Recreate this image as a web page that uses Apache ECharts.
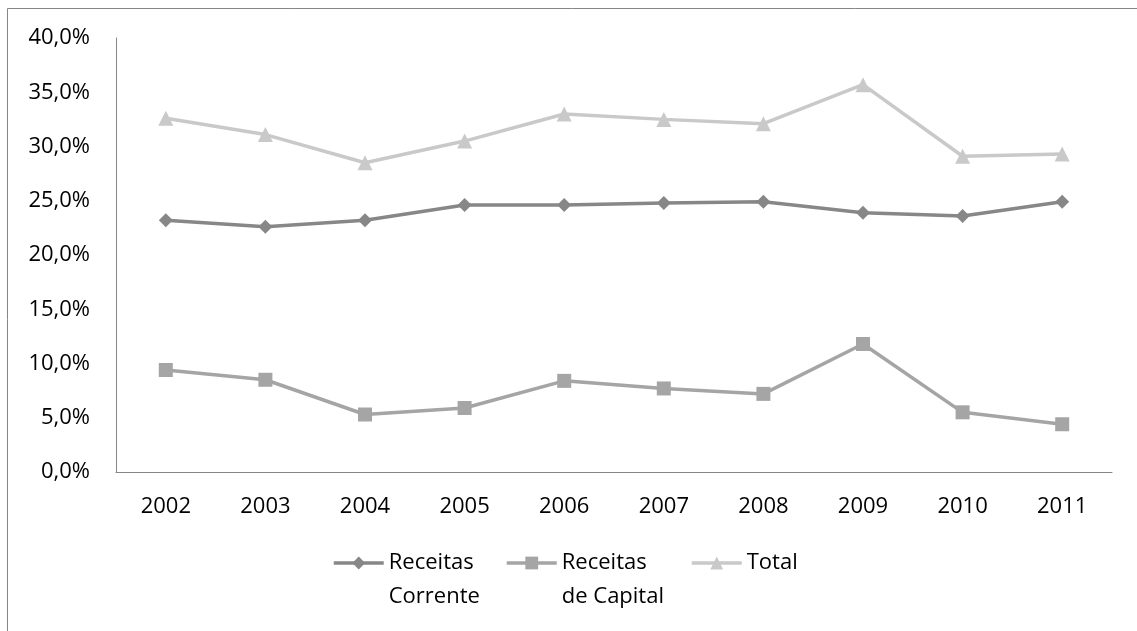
<!DOCTYPE html>
<html>
<head>
<meta charset="utf-8">
<script src="https://cdn.jsdelivr.net/npm/echarts@6/dist/echarts.min.js"></script>
<style>
  html, body { margin: 0; padding: 0; background: #fff; }
  #chart { width: 1137px; height: 631px; }
</style>
</head>
<body>
<div id="chart"></div>
<script>
// Years on the category axis
const years = ['2002', '2003', '2004', '2005', '2006', '2007', '2008', '2009', '2010', '2011'];
// Share of revenue (%) per year
const receitasCorrente = [23.2, 22.6, 23.2, 24.6, 24.6, 24.8, 24.9, 23.9, 23.6, 24.9];
const receitasCapital = [9.4, 8.5, 5.3, 5.9, 8.4, 7.7, 7.2, 11.8, 5.5, 4.4];
const total = [32.6, 31.1, 28.5, 30.5, 33.0, 32.5, 32.1, 35.7, 29.1, 29.3];
const seriesNames = ['Receitas\nCorrente', 'Receitas\nde Capital', 'Total'];

const FONT = 'Open Sans';
const FONT_SIZE = 22;
const LINE_H = 34;
const axisGray = '#868686';
const legendIconY = 563;

const chart = echarts.init(document.getElementById('chart'), null, { renderer: 'canvas' });

// One legend per series so each entry sits at its own x. Two-line names get
// a blank leading line so the icon lines up with the first line of text.
function legendFor(name, left) {
  const twoLine = name.includes('\n');
  const blockH = twoLine ? LINE_H * 3 : LINE_H;
  return {
    data: [name],
    left: left,
    top: legendIconY - 5 - blockH / 2,
    itemWidth: 50,
    itemHeight: 16,
    lineStyle: { width: 3.5 },
    formatter: n => (twoLine ? ' \n' + n : n),
    textStyle: { fontFamily: FONT, fontSize: FONT_SIZE, color: '#000', lineHeight: LINE_H },
    selectedMode: false
  };
}

chart.setOption({
  animation: false,
  backgroundColor: '#fff',
  textStyle: { fontFamily: FONT },
  grid: { left: 116, right: 25, top: 38, bottom: 159, containLabel: false },
  legend: [
    legendFor(seriesNames[0], 327),
    legendFor(seriesNames[1], 500),
    legendFor(seriesNames[2], 685)
  ],
  xAxis: {
    type: 'category',
    data: years,
    boundaryGap: true,
    axisLine: { lineStyle: { color: axisGray, width: 1 } },
    axisTick: { show: false },
    axisLabel: { fontFamily: FONT, fontSize: FONT_SIZE, color: '#000', margin: 24 }
  },
  yAxis: {
    type: 'value',
    min: 0,
    max: 40,
    interval: 5,
    splitLine: { show: false },
    axisLine: { show: true, lineStyle: { color: axisGray, width: 1 } },
    axisTick: { show: false },
    axisLabel: {
      fontFamily: FONT, fontSize: FONT_SIZE, color: '#000', margin: 26,
      formatter: v => v.toFixed(1).replace('.', ',') + '%'
    }
  },
  graphic: [
    { type: 'line', shape: { x1: 7.5, y1: 8.5, x2: 1137, y2: 8.5 }, style: { stroke: axisGray, lineWidth: 1 } },
    { type: 'line', shape: { x1: 7.5, y1: 8.5, x2: 7.5, y2: 631 }, style: { stroke: axisGray, lineWidth: 1 } }
  ],
  series: [
    {
      name: seriesNames[0], type: 'line', data: receitasCorrente,
      symbol: 'diamond', symbolSize: 14,
      lineStyle: { color: '#878787', width: 3.5 },
      itemStyle: { color: '#878787' }
    },
    {
      name: seriesNames[1], type: 'line', data: receitasCapital,
      symbol: 'rect', symbolSize: 14,
      lineStyle: { color: '#a5a5a5', width: 3.5 },
      itemStyle: { color: '#a5a5a5' }
    },
    {
      name: seriesNames[2], type: 'line', data: total,
      symbol: 'triangle', symbolSize: 15,
      lineStyle: { color: '#c9c9c9', width: 3.5 },
      itemStyle: { color: '#c9c9c9' }
    }
  ]
});
</script>
</body>
</html>
